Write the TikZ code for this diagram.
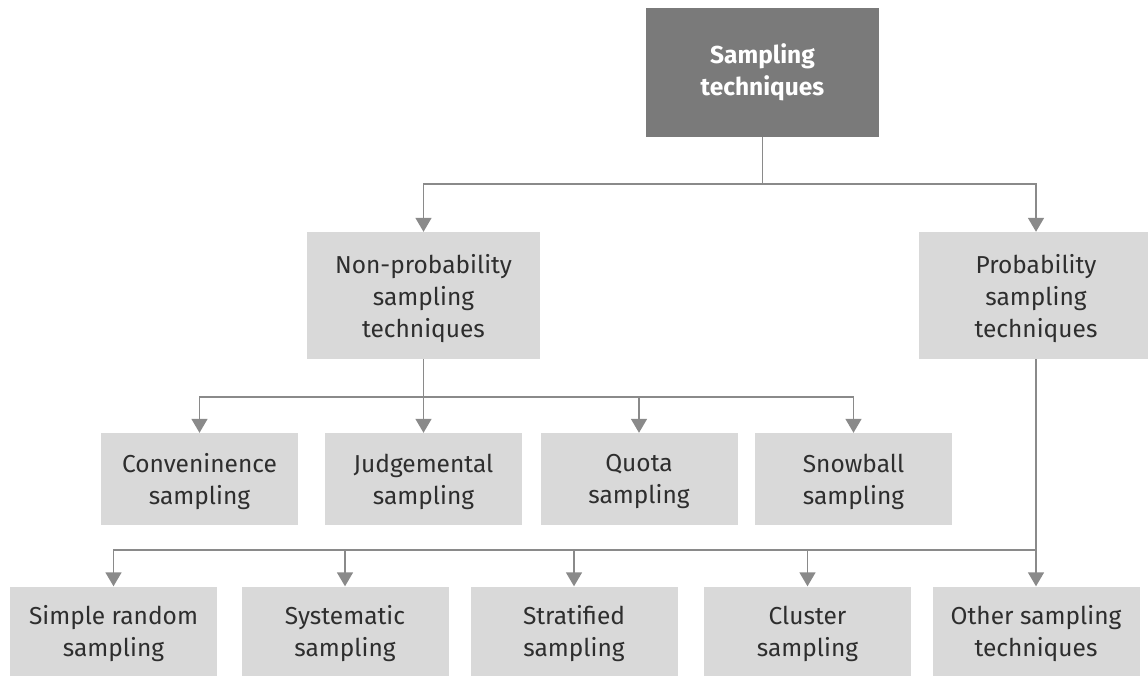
\documentclass[tikz,border=0pt]{standalone}
\usepackage{fontspec}
\setmainfont{Fira Sans}
\usetikzlibrary{arrows.meta}
\definecolor{boxgray}{HTML}{D9D9D9}
\definecolor{topgray}{HTML}{7A7A7A}
\definecolor{linegray}{HTML}{8A8A8A}
\definecolor{txt}{HTML}{2E2E2E}
\begin{document}
\begin{tikzpicture}[x=1pt,y=-1pt,
  box/.style={fill=boxgray, draw=none, text=txt, align=center, inner sep=0pt,
    text depth=0pt, font=\fontsize{24.5}{32}\selectfont},
  rootbox/.style={fill=topgray, draw=none, text=white, align=center, inner sep=0pt,
    font=\fontsize{24.5}{32}\selectfont\bfseries,
    minimum width=233pt, minimum height=129pt},
  midbox/.style={box, minimum width=233pt, minimum height=127pt},
  leafbox/.style={box, minimum width=197pt, minimum height=92pt},
  lowbox/.style={box, minimum width=207pt, minimum height=89pt},
  link/.style={draw=linegray, line width=1.6pt},
  arr/.style={link, -{Triangle[width=16pt,length=14pt]}}]
\useasboundingbox (0,0) rectangle (1148,675);

% root
\node[rootbox] (root) at (762.5,72.5) {Sampling\\techniques};

% second level
\node[midbox] (np) at (423.5,295.5) {Non-probability\\sampling\\techniques};
\node[midbox, minimum width=234pt] (pr) at (1036,295.5) {Probability\\sampling\\techniques};

% non-probability methods
\node[leafbox] (conv) at (199.5,479) {Conveninence\\sampling};
\node[leafbox] (judg) at (423.5,479) {Judgemental\\sampling};
\node[leafbox] (quota) at (639,479) {Quota\\sampling};
\node[leafbox] (snow) at (853.5,479) {Snowball\\sampling};

% probability methods
\node[lowbox] (simple) at (113.5,631) {Simple random\\sampling};
\node[lowbox] (syst) at (345,631) {Systematic\\sampling};
\node[lowbox] (strat) at (574,631) {Stratified\\sampling};
\node[lowbox] (clus) at (807.5,631) {Cluster\\sampling};
\node[lowbox] (other) at (1036,631) {Other sampling\\techniques};

% junction points
\coordinate (j1) at (762.5,184);
\coordinate (j2) at (423.5,397);
\coordinate (j3) at (1036,550);

% connectors
\draw[link] (root.south) -- (j1);
\draw[arr] (j1) -| (np.north);
\draw[arr] (j1) -| (pr.north);

\draw[link] (np.south) -- (j2);
\draw[arr] (j2) -| (conv.north);
\draw[arr] (j2) -- (judg.north);
\draw[arr] (j2) -| (quota.north);
\draw[arr] (j2) -| (snow.north);

\draw[link] (pr.south) -- (j3);
\draw[arr] (j3) -| (simple.north);
\draw[arr] (j3) -| (syst.north);
\draw[arr] (j3) -| (strat.north);
\draw[arr] (j3) -| (clus.north);
\draw[arr] (j3) -- (other.north);
\end{tikzpicture}
\end{document}
